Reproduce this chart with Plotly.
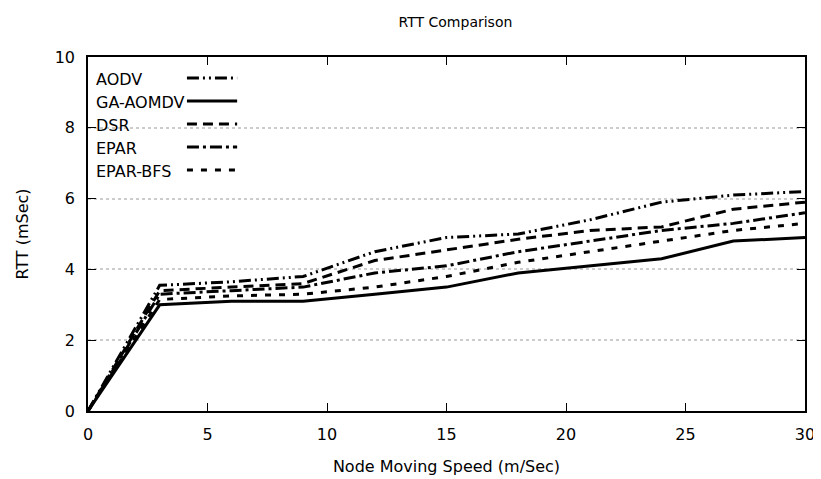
import plotly.graph_objects as go

speed = [0, 3, 6, 9, 12, 15, 18, 21, 24, 27, 30]
aodv = [0, 3.55, 3.65, 3.8, 4.5, 4.9, 5.0, 5.4, 5.9, 6.1, 6.2]
ga_aomdv = [0, 3.0, 3.1, 3.1, 3.3, 3.5, 3.9, 4.1, 4.3, 4.8, 4.9]
dsr = [0, 3.4, 3.5, 3.6, 4.25, 4.55, 4.85, 5.1, 5.2, 5.7, 5.9]
epar = [0, 3.3, 3.4, 3.5, 3.9, 4.1, 4.5, 4.8, 5.1, 5.3, 5.6]
epar_bfs = [0, 3.15, 3.25, 3.3, 3.5, 3.8, 4.2, 4.5, 4.8, 5.1, 5.3]

names = ["AODV", "GA-AOMDV", "DSR", "EPAR", "EPAR-BFS"]
series = [aodv, ga_aomdv, dsr, epar, epar_bfs]
dashes = ["12px,4px,2px,4px,2px,4px", "solid", "10px,6px", "12px,4px,3px,4px", "6px,8px"]
x_ticks = [0, 5, 10, 15, 20, 25, 30]
y_ticks = [0, 2, 4, 6, 8, 10]

fig = go.Figure()
for n, s, d in zip(names, series, dashes):
    fig.add_trace(go.Scatter(x=speed, y=s, mode="lines", name=n,
                             line=dict(color="black", width=3, dash=d),
                             showlegend=False))

font = "DejaVu Sans, Verdana, sans-serif"
# manual gnuplot-style legend (text then line sample)
for i, (n, d) in enumerate(zip(names, dashes)):
    yp = 0.941 - i * 0.065
    fig.add_annotation(x=0.011, y=yp, xref="paper", yref="paper", text=n,
                       showarrow=False, xanchor="left", yanchor="middle",
                       xshift=-2, yshift=-2,
                       font=dict(family=font, size=16, color="black"))
    fig.add_shape(type="line", xref="paper", yref="paper",
                  x0=0.138, x1=0.208, y0=yp, y1=yp,
                  line=dict(color="black", width=3, dash=d))

fig.update_layout(
    width=821, height=479,
    margin=dict(l=80, r=24, t=49, b=76, autoexpand=False),
    paper_bgcolor="white", plot_bgcolor="white",
    title=dict(text="RTT Comparison", x=0.545, xanchor="center",
               y=0.971, yanchor="middle",
               font=dict(family=font, size=14, color="black")),
    font=dict(family=font, size=16, color="black"),
)
fig.update_xaxes(range=[0, 30], tickvals=x_ticks, ticks="inside", ticklen=8,
                 tickcolor="black", showline=True, linecolor="black", linewidth=1.5,
                 mirror="allticks", showgrid=False, zeroline=False,
                 automargin=False, ticklabelstandoff=8,
                 title=dict(text="Node Moving Speed (m/Sec)", font=dict(size=16), standoff=18))
fig.update_yaxes(range=[0, 10], tickvals=y_ticks, ticks="inside", ticklen=8,
                 tickcolor="black", showline=True, linecolor="black", linewidth=1.5,
                 mirror="allticks", showgrid=True, gridcolor="#cccccc",
                 griddash="dot", gridwidth=1.5, zeroline=False,
                 automargin=False, ticklabelstandoff=8,
                 title=dict(text="RTT (mSec)", font=dict(size=16), standoff=22))

fig.write_html("out.html")
